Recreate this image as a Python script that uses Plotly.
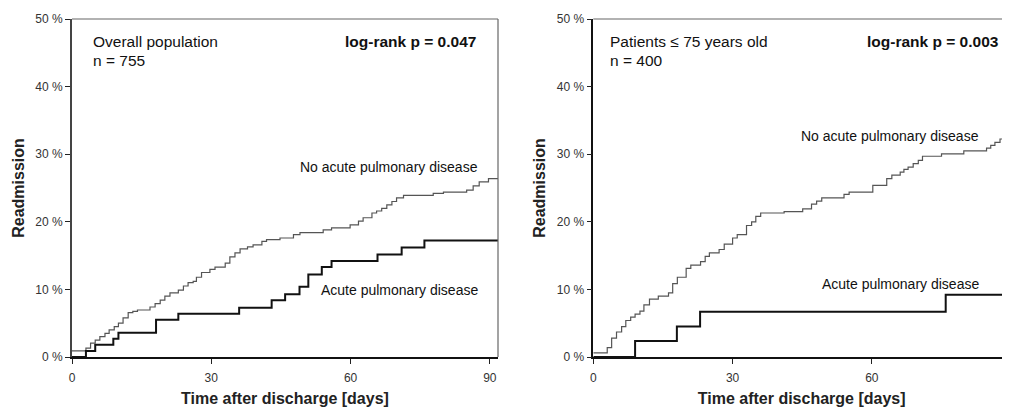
import plotly.graph_objects as go

# ---------------- data ----------------
# Left panel: overall population (n = 755)
left_noacute_t = [0, 3, 4, 5, 6, 7.1, 8, 9.1, 10, 11, 12.1, 13.1, 14.1, 16.8, 17.9, 19, 20, 21.1, 22.9, 24,
                  25, 26.1, 26.8, 27.9, 29.7, 30.8, 33, 34, 35.1, 36.2, 37.8, 39, 40.9, 41.9, 44.8, 47.7,
                  49.1, 54.1, 55.9, 59.9, 61.7, 62.7, 64.6, 65.6, 66.7, 67.8, 68.9, 69.9, 71.4, 77.8, 80,
                  85, 86.4, 87.7, 89.7, 91.8]
left_noacute_v = [0.9, 1.3, 2.05, 2.5, 3.0, 3.5, 4.0, 4.5, 5.0, 5.8, 6.55, 6.75, 6.95, 7.4, 7.9, 8.4, 9.0,
                  9.5, 9.9, 10.5, 11.0, 11.2, 11.8, 12.5, 12.95, 13.3, 13.9, 14.8, 15.4, 16.0, 16.3, 16.6,
                  17.1, 17.35, 17.6, 18.1, 18.4, 18.8, 19.1, 19.55, 20.1, 20.6, 21.3, 21.6, 22.0, 22.5,
                  23.0, 23.55, 23.9, 24.2, 24.4, 24.7, 25.3, 25.9, 26.4, 26.4]
left_acute_t = [0, 3, 5, 8.9, 10, 18.1, 22.9, 36, 43, 45.9, 49, 50.9, 53.8, 55.9, 65.8, 71, 75.9, 91.8]
left_acute_v = [0, 0.9, 1.8, 2.7, 3.6, 5.5, 6.4, 7.3, 8.4, 9.3, 10.4, 12.2, 13.3, 14.2, 15.15, 16.2,
                17.25, 17.25]

# Right panel: patients <= 75 years old (n = 400)
right_noacute_t = [0, 3, 3.95, 5, 6.1, 7, 8.05, 9, 10.05, 10.9, 12.1, 14, 16.2, 17.1, 18.1, 20, 21, 23.1,
                   24.1, 25, 27.1, 28.2, 30, 31, 33, 34.1, 35, 36.05, 41.1, 45.1, 47, 48.1, 49.2, 54,
                   55.1, 60.2, 63.2, 64.3, 66.1, 66.9, 67.8, 68.9, 70, 70.9, 75, 79.8, 84.7, 85.6, 86.5,
                   87.6, 88.7, 91.8]
right_noacute_v = [0.6, 1.4, 2.8, 3.7, 4.5, 5.4, 5.9, 6.35, 6.8, 7.7, 8.55, 9.0, 9.5, 10.85, 11.8, 13.1,
                   13.6, 14.1, 14.9, 15.4, 15.9, 16.7, 17.6, 18.1, 19.45, 20.0, 20.8, 21.3, 21.5, 21.9,
                   22.6, 23.05, 23.55, 24.05, 24.4, 25.4, 26.4, 26.9, 27.35, 27.75, 28.1, 28.6, 29.1,
                   29.7, 30.05, 30.5, 30.9, 31.3, 31.75, 32.25, 32.65, 32.65]
right_acute_t = [0, 9, 18, 23, 75.9, 91.8]
right_acute_v = [0, 2.35, 4.5, 6.7, 9.2, 9.2]

y_ticks = [0, 10, 20, 30, 40, 50]
y_tick_labels = ["0 %", "10 %", "20 %", "30 %", "40 %", "50 %"]
x_ticks = [0, 30, 60, 90]
x_tick_labels = ["0", "30", "60", "90"]

FONT = "Liberation Sans, Arial, sans-serif"

fig = go.Figure()

def add_curves(t1, v1, t2, v2, xa, ya):
    fig.add_trace(go.Scatter(x=t1, y=v1, mode="lines", line=dict(shape="hv", color="#555555", width=1.2),
                             xaxis=xa, yaxis=ya, showlegend=False, cliponaxis=True))
    fig.add_trace(go.Scatter(x=t2, y=v2, mode="lines", line=dict(shape="hv", color="#111111", width=2),
                             xaxis=xa, yaxis=ya, showlegend=False, cliponaxis=True))

add_curves(left_noacute_t, left_noacute_v, left_acute_t, left_acute_v, "x", "y")
add_curves(right_noacute_t, right_noacute_v, right_acute_t, right_acute_v, "x2", "y2")

xcommon = dict(tickmode="array", tickvals=x_ticks, ticktext=x_tick_labels, ticks="outside", ticklen=5,
               tickcolor="#222", tickwidth=1, showgrid=False, zeroline=False, showline=True,
               linecolor="#111", linewidth=1.5, ticklabelstandoff=4,
               tickfont=dict(family=FONT, size=12, color="#333"),
               title=dict(text="<b>Time after discharge [days]</b>", font=dict(family=FONT, size=16, color="#222"),
                          standoff=11))
ycommon = dict(tickmode="array", tickvals=y_ticks, ticktext=y_tick_labels, ticks="outside", ticklen=5,
               tickcolor="#222", tickwidth=1, showgrid=False, zeroline=False, showline=True,
               range=[0, 50], tickfont=dict(family=FONT, size=12, color="#333"),
               title=dict(text="<b>Readmission</b>", font=dict(family=FONT, size=16, color="#222"),
                          standoff=7))

# figure is drawn inside the page's 8px body margin
W, H = 1002, 399
L = 64
d1 = [0, (490 - L) / (W - L)]
d2 = [(585.3 - L) / (W - L), 1]
x2_range = [0, 89.75]

fig.update_layout(
    width=W, height=H,
    margin=dict(l=L, r=0, t=11, b=47),
    paper_bgcolor="white", plot_bgcolor="white",
    font=dict(family=FONT, color="#222"),
    xaxis=dict(domain=d1, range=[0, 91.75], anchor="y", **xcommon),
    yaxis=dict(domain=[0, 1], anchor="x", linecolor="#444", linewidth=2, **ycommon),
    xaxis2=dict(domain=d2, range=x2_range, anchor="y2", **xcommon),
    yaxis2=dict(domain=[0, 1], anchor="x2", linecolor="#111", linewidth=1.5, **ycommon),
)

# frame lines (top / right) of the panels
fig.add_shape(type="line", xref="x domain", yref="y domain", x0=0, x1=1, y0=1, y1=1,
              line=dict(color="#666", width=1.2))
fig.add_shape(type="line", xref="x domain", yref="y domain", x0=1, x1=1, y0=0, y1=1,
              line=dict(color="#666", width=1.2))
fig.add_shape(type="line", xref="x2 domain", yref="y2 domain", x0=0, x1=1, y0=1, y1=1,
              line=dict(color="#666", width=1.2))

def ann(text, x, y, xa, ya, anchor, size=15.5, bold=False):
    fig.add_annotation(text=f"<b>{text}</b>" if bold else text, x=x, y=y, xref=xa, yref=ya,
                       xanchor=anchor, yanchor="middle", showarrow=False,
                       font=dict(family=FONT, size=size, color="#111"))

# left panel texts
ann("Overall population", 4.0, 46.6, "x", "y", "left")
ann("n = 755", 4.0, 43.8, "x", "y", "left")
ann("log-rank p = 0.047", 87.4, 46.6, "x", "y", "right", bold=True)
ann("No acute pulmonary disease", 87.9, 28.15, "x", "y", "right", size=14)
ann("Acute pulmonary disease", 87.9, 9.97, "x", "y", "right", size=14)

# right panel texts
ann("Patients \u2264 75 years old", 3.1, 46.6, "x2", "y2", "left")
ann("n = 400", 3.1, 43.8, "x2", "y2", "left")
ann("log-rank p = 0.003", 87.9, 46.6, "x2", "y2", "right", bold=True)
ann("No acute pulmonary disease", 83.5, 32.7, "x2", "y2", "right", size=14)
ann("Acute pulmonary disease", 83.5, 10.85, "x2", "y2", "right", size=14)

# the 90-day tick label of the right panel falls just past the page edge
x90_paper = d2[0] + (x_ticks[3] - x2_range[0]) / (x2_range[1] - x2_range[0]) * (d2[1] - d2[0])
fig.add_annotation(text=x_tick_labels[3], x=x90_paper, xref="paper", y=0, yref="paper",
                   yanchor="middle", xanchor="center", yshift=-19, showarrow=False,
                   font=dict(family=FONT, size=12, color="#333"))

fig.write_html("out.html")
